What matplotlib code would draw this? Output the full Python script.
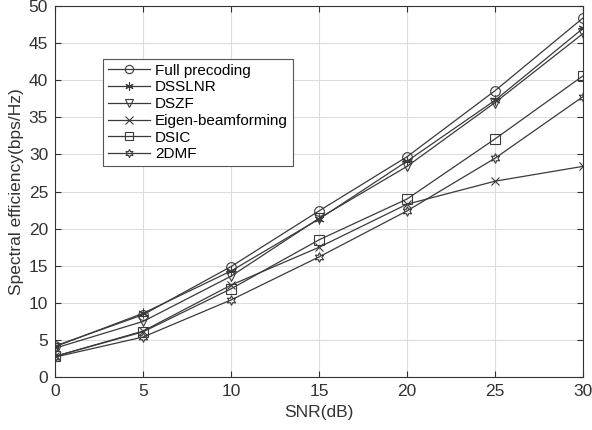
import numpy as np
import matplotlib.pyplot as plt

snr = [0, 5, 10, 15, 20, 25, 30]
full_precoding = [4.2, 8.4, 14.9, 22.4, 29.7, 38.6, 48.4]
dsslnr = [4.1, 8.6, 14.3, 21.3, 29.1, 37.3, 47.0]
dszf = [3.9, 7.5, 13.6, 21.4, 28.4, 37.0, 46.3]
eigen_bf = [2.8, 6.2, 12.4, 17.5, 23.3, 26.4, 28.4]
dsic = [2.8, 6.1, 11.9, 18.5, 24.0, 32.1, 40.6]
dmf2 = [2.7, 5.4, 10.4, 16.2, 22.4, 29.5, 37.8]

# name, values, marker, marker size
series = [
    ("Full precoding", full_precoding, "o", 7),
    ("DSSLNR", dsslnr, (6, 2, 0), 7),
    ("DSZF", dszf, "v", 7),
    ("Eigen-beamforming", eigen_bf, "x", 6),
    ("DSIC", dsic, "s", 6.5),
    ("2DMF", dmf2, (6, 1, 0), 7),
]

plt.rcParams['font.family'] = ['Liberation Sans', 'DejaVu Sans']

fig = plt.figure(figsize=(5.92, 4.30), dpi=100)
ax = fig.add_axes([0.093, 0.123, 0.892, 0.863])

line_color = '#3a3a3a'
for name, vals, mk, ms in series:
    ax.plot(snr, vals, color=line_color, lw=0.9, marker=mk, markersize=ms,
            markerfacecolor='none', markeredgecolor=line_color,
            markeredgewidth=0.8, label=name)

ax.set_xlim(0, 30)
ax.set_ylim(0, 50)
ax.set_xticks(np.arange(0, 31, 5))
ax.set_yticks(np.arange(0, 51, 5))
ax.grid(True, color='#dddddd', lw=0.8)
ax.set_axisbelow(True)
ax.tick_params(direction='in', top=True, right=True, labelsize=12.5,
               colors='#333333', length=4, pad=5)
for s in ax.spines.values():
    s.set_color('#333333')
    s.set_linewidth(0.8)

ax.set_xlabel('SNR(dB)', fontsize=12.5, color='#333333', labelpad=4)
ax.set_ylabel('Spectral efficiency(bps/Hz)', fontsize=12.5, color='#333333', labelpad=3)

leg = ax.legend(loc='upper left', bbox_to_anchor=(0.091, 0.857), borderaxespad=0,
                fontsize=11, fancybox=False, framealpha=1, edgecolor='#555555',
                handlelength=2.8, labelspacing=0.18, borderpad=0.3, handletextpad=0.3,
                markerscale=0.85)
leg.get_frame().set_linewidth(0.8)

fig.savefig('out.png', dpi=100)
